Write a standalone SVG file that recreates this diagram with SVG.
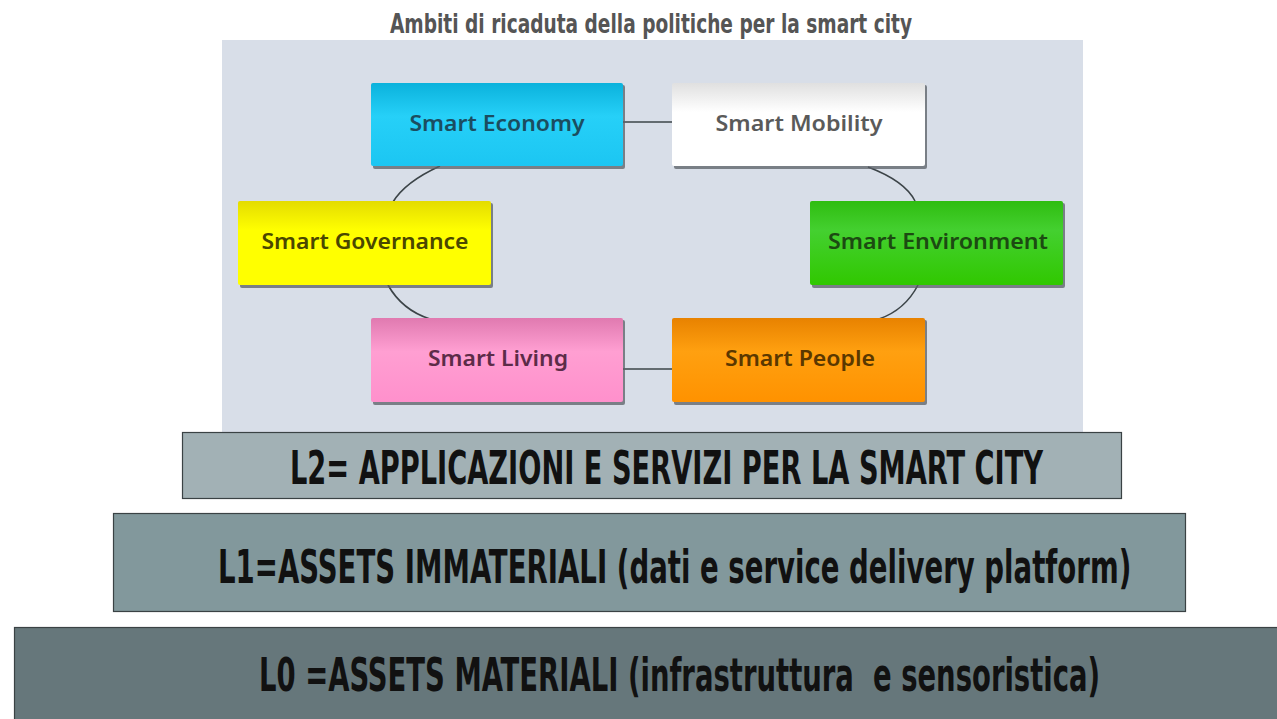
<svg xmlns="http://www.w3.org/2000/svg" width="1277" height="719" viewBox="0 0 1277 719">
<defs>
<style>
.ttl{font-family:"Liberation Sans Narrow","DejaVu Sans Condensed","Liberation Sans",sans-serif;font-weight:bold;white-space:pre;}
.nt{font-family:"Noto Sans","Open Sans",sans-serif;font-weight:600;font-size:21px;text-anchor:middle;}
.bar{stroke:#3a4244;stroke-width:1.2;}
.conn{fill:none;stroke:#3c4448;stroke-width:1.6;}
.shadow{fill:#5a5f66;opacity:0.75;}
</style>
<linearGradient id="gEco" x1="0" y1="0" x2="0" y2="1"><stop offset="0" stop-color="#0bb2dc"/><stop offset="0.4" stop-color="#26d0f8"/><stop offset="1" stop-color="#1cc6f2"/></linearGradient>
<linearGradient id="gMob" x1="0" y1="0" x2="0" y2="1"><stop offset="0" stop-color="#e0e0e0"/><stop offset="0.35" stop-color="#ffffff"/><stop offset="1" stop-color="#ffffff"/></linearGradient>
<linearGradient id="gGov" x1="0" y1="0" x2="0" y2="1"><stop offset="0" stop-color="#e4dc00"/><stop offset="0.35" stop-color="#ffff00"/><stop offset="1" stop-color="#ffff00"/></linearGradient>
<linearGradient id="gEnv" x1="0" y1="0" x2="0" y2="1"><stop offset="0" stop-color="#2fbd10"/><stop offset="0.35" stop-color="#44d030"/><stop offset="1" stop-color="#30c800"/></linearGradient>
<linearGradient id="gLiv" x1="0" y1="0" x2="0" y2="1"><stop offset="0" stop-color="#e07ab0"/><stop offset="0.4" stop-color="#ff9fd2"/><stop offset="1" stop-color="#ff90cc"/></linearGradient>
<linearGradient id="gPeo" x1="0" y1="0" x2="0" y2="1"><stop offset="0" stop-color="#e88200"/><stop offset="0.4" stop-color="#ffa010"/><stop offset="1" stop-color="#ff9200"/></linearGradient>
</defs>
<rect x="0" y="0" width="1277" height="719" fill="#ffffff"/>
<text class="ttl" x="651" y="33" font-size="26" fill="#555555" text-anchor="middle" textLength="522" lengthAdjust="spacingAndGlyphs">Ambiti di ricaduta della politiche per la smart city</text>
<rect id="panel" x="222" y="40" width="861" height="393" fill="#d8dee8"/>
<g id="connectors">
<line class="conn" x1="623" y1="122" x2="672" y2="122"/>
<line class="conn" x1="623" y1="369" x2="672" y2="369"/>
<path class="conn" d="M440,166 Q405,182 393,202"/>
<path class="conn" d="M388,285 Q402,310 430,319"/>
<path class="conn" d="M868,167 Q905,181 915,201"/>
<path class="conn" d="M918,285 Q905,310 879,319"/>
</g>
<g id="node-economy">
<rect class="shadow" x="373" y="85" width="252" height="84" rx="2"/>
<rect x="371" y="83" width="252" height="83" rx="2" fill="url(#gEco)"/>
<text class="nt" x="497" y="131" fill="#1b4d60" textLength="175" lengthAdjust="spacingAndGlyphs">Smart Economy</text>
</g>
<g id="node-mobility">
<rect class="shadow" x="674" y="85" width="253" height="84" rx="2"/>
<rect x="672" y="83" width="253" height="83" rx="2" fill="url(#gMob)"/>
<text class="nt" x="799" y="131" fill="#5a5a5a" textLength="167" lengthAdjust="spacingAndGlyphs">Smart Mobility</text>
</g>
<g id="node-governance">
<rect class="shadow" x="240" y="203" width="253" height="85" rx="2"/>
<rect x="238" y="201" width="253" height="84" rx="2" fill="url(#gGov)"/>
<text class="nt" x="365" y="249" fill="#4a4700" textLength="207" lengthAdjust="spacingAndGlyphs">Smart Governance</text>
</g>
<g id="node-environment">
<rect class="shadow" x="812" y="203" width="253" height="85" rx="2"/>
<rect x="810" y="201" width="253" height="84" rx="2" fill="url(#gEnv)"/>
<text class="nt" x="938" y="249" fill="#1c4a12" textLength="220" lengthAdjust="spacingAndGlyphs">Smart Environment</text>
</g>
<g id="node-living">
<rect class="shadow" x="373" y="320" width="252" height="85" rx="2"/>
<rect x="371" y="318" width="252" height="84" rx="2" fill="url(#gLiv)"/>
<text class="nt" x="498" y="366" fill="#5c2c48" textLength="140" lengthAdjust="spacingAndGlyphs">Smart Living</text>
</g>
<g id="node-people">
<rect class="shadow" x="674" y="320" width="253" height="85" rx="2"/>
<rect x="672" y="318" width="253" height="84" rx="2" fill="url(#gPeo)"/>
<text class="nt" x="800" y="366" fill="#5a3800" textLength="150" lengthAdjust="spacingAndGlyphs">Smart People</text>
</g>
<g id="layer-L2">
<rect class="bar" x="182.5" y="432.5" width="939" height="66" fill="#a2b1b5"/>
<text class="ttl" transform="translate(290,484) scale(0.6,1)" x="0" y="0" font-size="47" fill="#111111" textLength="1255" lengthAdjust="spacingAndGlyphs">L2= APPLICAZIONI E SERVIZI PER LA SMART CITY</text>
</g>
<g id="layer-L1">
<rect class="bar" x="113.5" y="513.5" width="1072" height="98" fill="#82989c"/>
<text class="ttl" transform="translate(218,583) scale(0.65,1)" x="0" y="0" font-size="47" fill="#111111" textLength="1405" lengthAdjust="spacingAndGlyphs">L1=ASSETS IMMATERIALI (dati e service delivery platform)</text>
</g>
<g id="layer-L0">
<rect class="bar" x="14.5" y="627.5" width="1275" height="100" fill="#66777b"/>
<text class="ttl" transform="translate(259,691) scale(0.63,1)" x="0" y="0" font-size="47" fill="#111111" textLength="1335" lengthAdjust="spacingAndGlyphs">L0 =ASSETS MATERIALI (infrastruttura  e sensoristica)</text>
</g>
</svg>
